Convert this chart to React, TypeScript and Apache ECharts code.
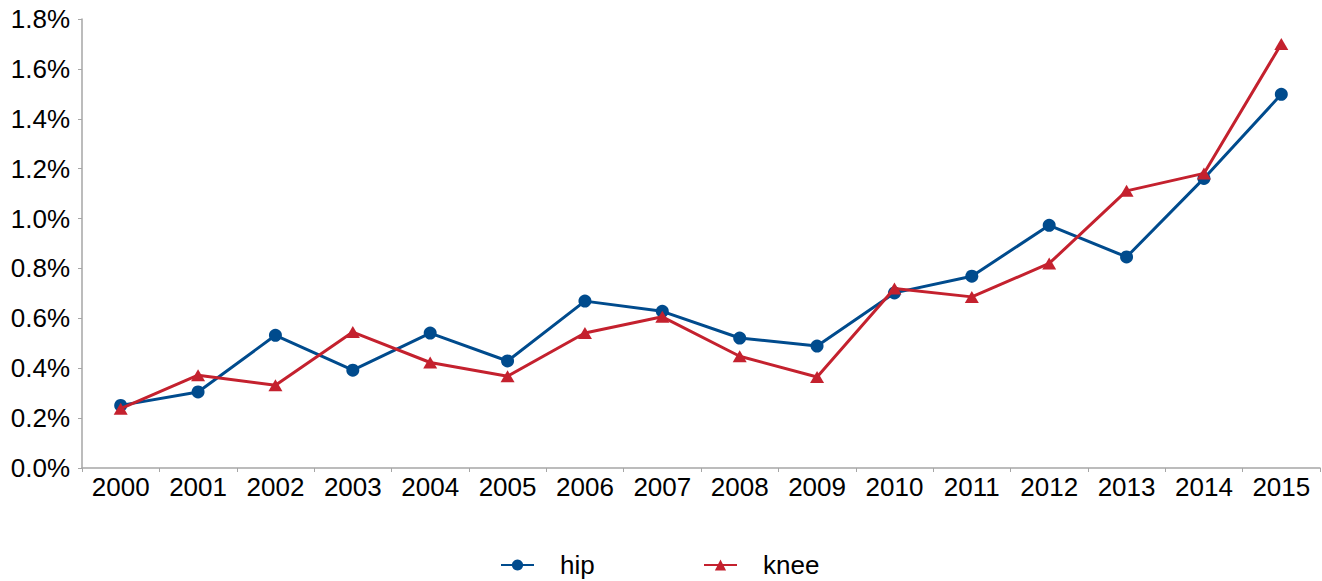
import React, { useEffect, useRef } from "react";
import * as echarts from "echarts";

const years = ["2000","2001","2002","2003","2004","2005","2006","2007","2008","2009","2010","2011","2012","2013","2014","2015"];
const hip = [0.251, 0.305, 0.532, 0.392, 0.541, 0.429, 0.669, 0.628, 0.521, 0.489, 0.702, 0.769, 0.973, 0.846, 1.161, 1.498];
const knee = [0.238, 0.372, 0.332, 0.545, 0.423, 0.368, 0.541, 0.606, 0.448, 0.365, 0.72, 0.686, 0.82, 1.111, 1.181, 1.70];
const yTicks = { min: 0, max: 1.8, interval: 0.2 };

const BLUE = "#004B8D";
const RED = "#C4212E";
const FONT = "'Liberation Sans', Arial, Helvetica, sans-serif";

export default function App() {
  const ref = useRef<HTMLDivElement>(null);
  useEffect(() => {
    if (!ref.current) return;
    const chart = echarts.init(ref.current, undefined, { renderer: "svg" });
    const legendBase = {
      orient: "horizontal",
      top: 551,
      padding: 0,
      itemWidth: 33,
      itemHeight: 14,
      textStyle: { fontSize: 26, lineHeight: 28, color: "#000", fontFamily: FONT, padding: [0, 0, 0, 21] },
      selectedMode: false,
    };
    chart.setOption({
      animation: false,
      backgroundColor: "#fff",
      textStyle: { fontFamily: FONT },
      grid: { left: 82, right: 2, top: 19, bottom: 113 },
      legend: [
        { ...legendBase, left: 500, data: ["hip"] },
        { ...legendBase, left: 703, data: ["knee"] },
      ],
      xAxis: {
        type: "category",
        data: years,
        boundaryGap: true,
        axisLine: { lineStyle: { color: "#A6A6A6", width: 1.5 } },
        axisTick: { show: true, interval: 0, length: 4, lineStyle: { color: "#A6A6A6" } },
        axisLabel: { interval: 0, fontSize: 26, color: "#000", margin: 6, fontFamily: FONT },
        splitLine: { show: false },
      },
      yAxis: {
        type: "value",
        min: yTicks.min,
        max: yTicks.max,
        interval: yTicks.interval,
        axisLine: { show: true, lineStyle: { color: "#A6A6A6", width: 1.5 } },
        axisTick: { show: true, length: 4, lineStyle: { color: "#A6A6A6" } },
        axisLabel: {
          fontSize: 26,
          color: "#000",
          margin: 12,
          fontFamily: FONT,
          formatter: (v: number) => v.toFixed(1) + "%",
        },
        splitLine: { show: false },
      },
      series: [
        {
          name: "hip",
          type: "line",
          data: hip,
          symbol: "circle",
          symbolSize: 13,
          itemStyle: { color: BLUE },
          lineStyle: { color: BLUE, width: 3 },
          z: 2,
        },
        {
          name: "knee",
          type: "line",
          data: knee,
          symbol: "triangle",
          symbolSize: [14, 12],
          itemStyle: { color: RED },
          lineStyle: { color: RED, width: 3 },
          z: 3,
        },
      ],
    });
    return () => chart.dispose();
  }, []);
  return (
    <div
      ref={ref}
      style={{ position: "fixed", left: 0, top: 0, width: 1322, height: 581, background: "#fff" }}
    />
  );
}
